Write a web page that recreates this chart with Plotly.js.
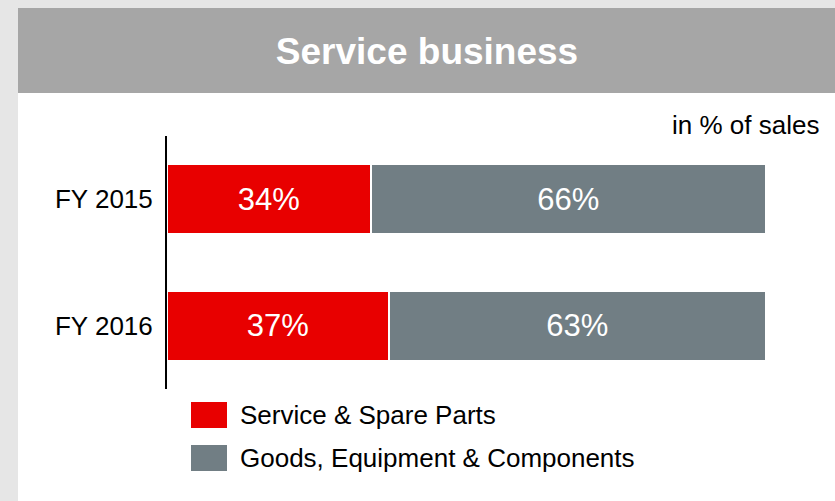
<!DOCTYPE html>
<html>
<head>
<meta charset="utf-8">
<script src="https://cdn.plot.ly/plotly-3.0.1.min.js"></script>
<style>
  html, body { margin: 0; padding: 0; background: #e6e6e6; }
  #chart { width: 835px; height: 501px; }
</style>
</head>
<body>
<div id="chart"></div>
<script>
// ---- data ----
const categories = ['FY 2015', 'FY 2016'];
const seriesNames = ['Service & Spare Parts', 'Goods, Equipment & Components'];
const serviceValues = [34, 37];
const goodsValues = [66, 63];
const titleText = 'Service business';
const unitText = 'in % of sales';

// ---- styles ----
const RED = '#e80000';
const GRAY = '#717e84';
const FONT = 'Liberation Sans, Arial, sans-serif';

const WIDTH = 835, HEIGHT = 501;
const M = { l: 167, r: 69, t: 136, b: 112 };
const PW = WIDTH - M.l - M.r, PH = HEIGHT - M.t - M.b;
const px = v => (v - M.l) / PW;
const py = v => (HEIGHT - M.b - v) / PH;

function barTrace(name, values, color) {
  return {
    type: 'bar', orientation: 'h', name: name,
    y: categories, x: values,
    text: values.map(v => v + '%'),
    textposition: 'inside', insidetextanchor: 'middle',
    textfont: { family: FONT, size: 31, color: '#ffffff' },
    marker: { color: color, line: { color: '#ffffff', width: 2 } },
    hoverinfo: 'none', showlegend: false
  };
}

const traces = [
  barTrace(seriesNames[0], serviceValues, RED),
  barTrace(seriesNames[1], goodsValues, GRAY)
];

const legendColors = [RED, GRAY];
const legendCenters = [415, 458];

const shapes = [
  { type: 'rect', xref: 'paper', yref: 'paper', layer: 'below',
    x0: px(18), x1: px(835), y0: py(501), y1: py(93),
    fillcolor: '#ffffff', line: { width: 0 } },
  { type: 'rect', xref: 'paper', yref: 'paper', layer: 'below',
    x0: px(18), x1: px(835), y0: py(93), y1: py(8),
    fillcolor: '#a6a6a6', line: { width: 0 } }
];
const annotations = [
  { xref: 'paper', yref: 'paper', x: px(821), y: py(125), xanchor: 'right', yanchor: 'middle',
    text: unitText, showarrow: false, font: { family: FONT, size: 26, color: '#000000' } }
];
seriesNames.forEach((n, i) => {
  const c = legendCenters[i];
  shapes.push({ type: 'rect', xref: 'paper', yref: 'paper',
    x0: px(191), x1: px(227), y0: py(c + 13), y1: py(c - 13),
    fillcolor: legendColors[i], line: { width: 0 } });
  annotations.push({ xref: 'paper', yref: 'paper', x: px(238), y: py(c),
    xanchor: 'left', yanchor: 'middle', text: n, showarrow: false,
    font: { family: FONT, size: 26, color: '#000000' } });
});

const layout = {
  width: WIDTH, height: HEIGHT, margin: M,
  paper_bgcolor: '#e6e6e6', plot_bgcolor: 'rgba(0,0,0,0)',
  barmode: 'stack', bargap: 0.45,
  font: { family: FONT, color: '#000000' },
  title: { text: '<b>' + titleText + '</b>', font: { family: FONT, size: 37, color: '#ffffff' },
           xref: 'container', yref: 'container', x: 427 / WIDTH, xanchor: 'center',
           y: 1 - 51 / HEIGHT, yanchor: 'middle' },
  xaxis: { range: [0, 100], visible: false, fixedrange: true },
  yaxis: { type: 'category', categoryorder: 'array', categoryarray: categories,
           range: [1.5, -0.5], showline: true, linecolor: '#000000', linewidth: 2,
           showgrid: false, zeroline: false, ticks: '', ticklabelstandoff: 7,
           tickfont: { family: FONT, size: 26, color: '#000000' }, fixedrange: true },
  shapes: shapes, annotations: annotations, showlegend: false
};

Plotly.newPlot('chart', traces, layout, { displayModeBar: false, staticPlot: true });
</script>
</body>
</html>
